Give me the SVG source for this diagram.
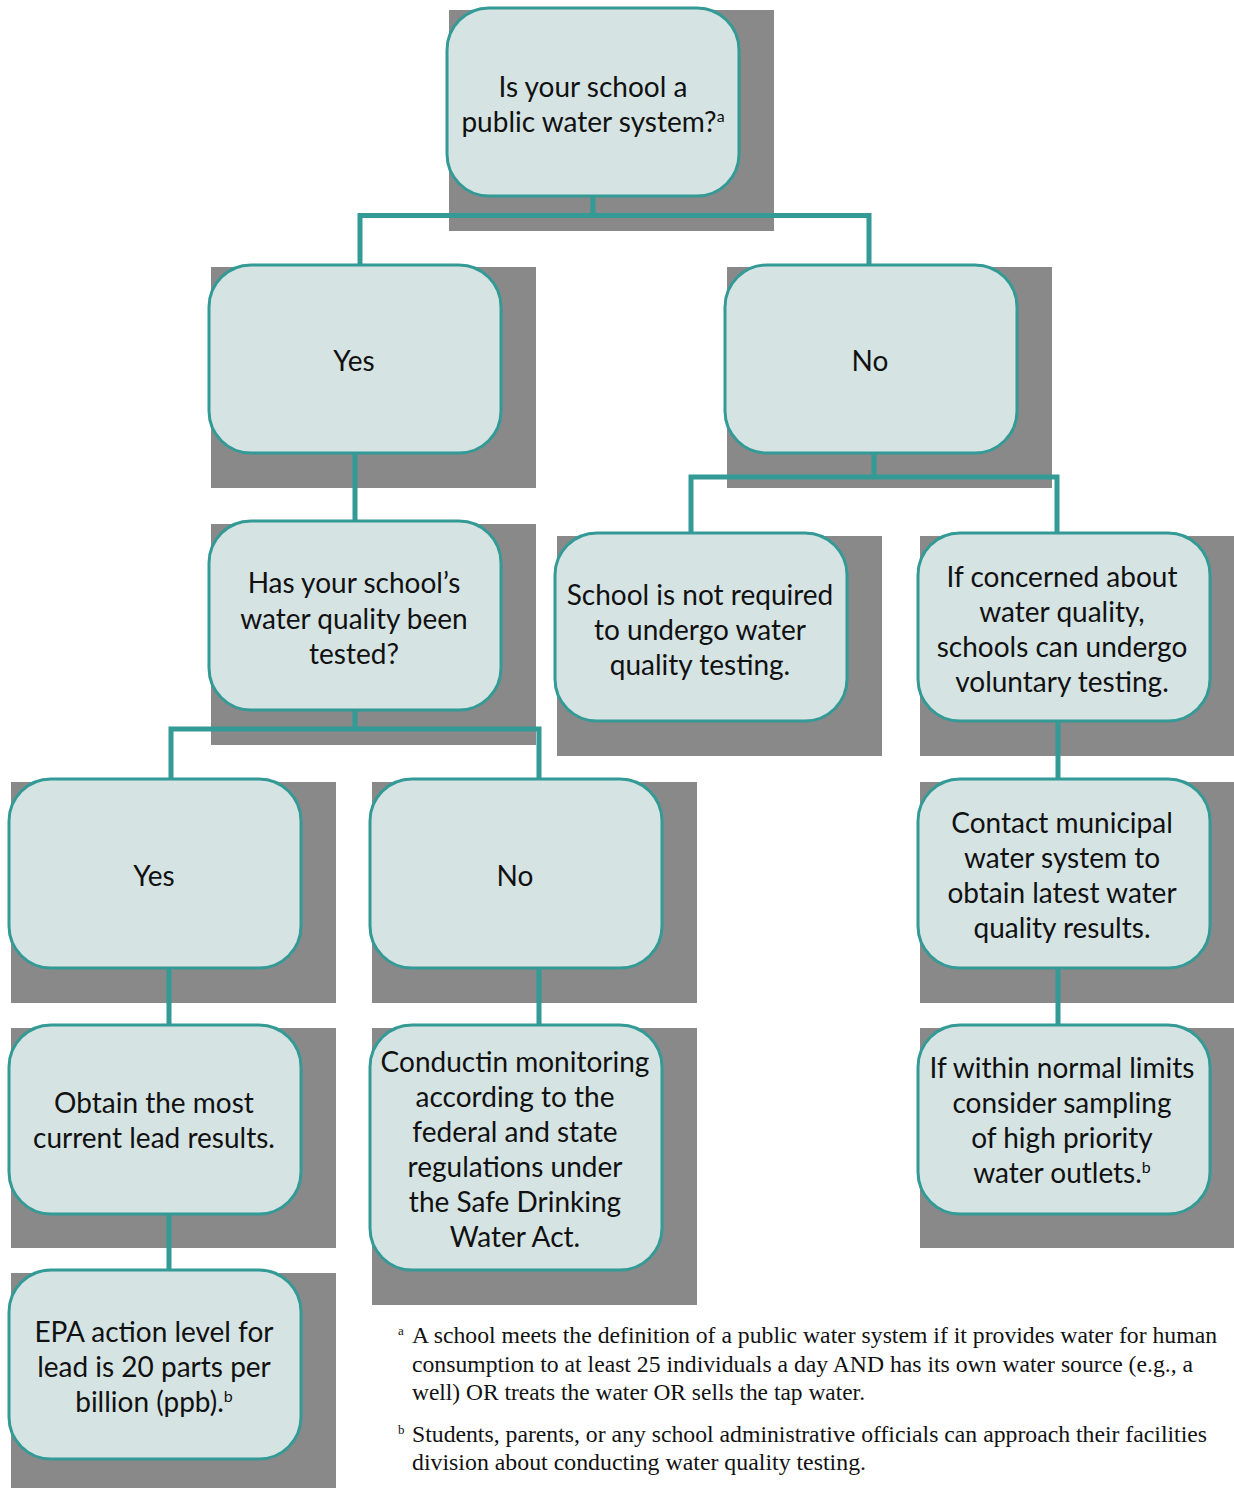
<svg xmlns="http://www.w3.org/2000/svg" width="1234" height="1488" viewBox="0 0 1234 1488">
<style>
.sh{fill:#898989}
.bx{fill:#D5E3E3;stroke:#339A96;stroke-width:3}
.t{font-family:"Lato","Noto Sans",sans-serif;font-size:28px;fill:#111;text-anchor:middle}
.sup{font-size:16px}
.c{fill:none;stroke:#339A96;stroke-width:5}
.fn{font-family:"Liberation Serif",serif;font-size:23px;fill:#111}
.fs{font-family:"Liberation Serif",serif;font-size:13px;fill:#111}
</style>
<rect width="1234" height="1488" fill="#fff"/>
<g id="n1"><rect class="sh" x="449" y="10" width="325" height="221"/><rect class="bx" x="447" y="8" width="292" height="188" rx="42"/>
<text class="t" x="593" y="97">Is your school a</text><text class="t" x="593" y="132">public water system?<tspan class="sup" dy="-10">a</tspan></text></g>
<g id="n2"><rect class="sh" x="211" y="267" width="325" height="221"/><rect class="bx" x="209" y="265" width="292" height="188" rx="42"/>
<text class="t" x="354" y="371">Yes</text></g>
<g id="n3"><rect class="sh" x="727" y="267" width="325" height="221"/><rect class="bx" x="725" y="265" width="292" height="188" rx="42"/>
<text class="t" x="870" y="371">No</text></g>
<g id="n4"><rect class="sh" x="211" y="524" width="325" height="221"/><rect class="bx" x="209" y="521" width="292" height="189" rx="42"/>
<text class="t" x="354" y="593">Has your school’s</text><text class="t" x="354" y="629">water quality been</text><text class="t" x="354" y="664">tested?</text></g>
<g id="n5"><rect class="sh" x="557" y="536" width="325" height="220"/><rect class="bx" x="555" y="533" width="292" height="188" rx="42"/>
<text class="t" x="700" y="605">School is not required</text><text class="t" x="700" y="640">to undergo water</text><text class="t" x="700" y="675">quality testing.</text></g>
<g id="n6"><rect class="sh" x="920" y="536" width="314" height="220"/><rect class="bx" x="918" y="533" width="292" height="188" rx="42"/>
<text class="t" x="1062" y="587">If concerned about</text><text class="t" x="1062" y="622">water quality,</text><text class="t" x="1062" y="657">schools can undergo</text><text class="t" x="1062" y="692">voluntary testing.</text></g>
<g id="n7"><rect class="sh" x="11" y="782" width="325" height="221"/><rect class="bx" x="9" y="779" width="292" height="189" rx="42"/>
<text class="t" x="154" y="886">Yes</text></g>
<g id="n8"><rect class="sh" x="372" y="782" width="325" height="221"/><rect class="bx" x="370" y="779" width="292" height="189" rx="42"/>
<text class="t" x="515" y="886">No</text></g>
<g id="n9"><rect class="sh" x="920" y="782" width="314" height="221"/><rect class="bx" x="918" y="779" width="292" height="189" rx="42"/>
<text class="t" x="1062" y="833">Contact municipal</text><text class="t" x="1062" y="868">water system to</text><text class="t" x="1062" y="903">obtain latest water</text><text class="t" x="1062" y="938">quality results.</text></g>
<g id="n10"><rect class="sh" x="11" y="1028" width="325" height="220"/><rect class="bx" x="9" y="1025" width="292" height="189" rx="42"/>
<text class="t" x="154" y="1113">Obtain the most</text><text class="t" x="154" y="1148">current lead results.</text></g>
<g id="n11"><rect class="sh" x="372" y="1028" width="325" height="277"/><rect class="bx" x="370" y="1025" width="292" height="245" rx="42"/>
<text class="t" x="515" y="1072">Conductin monitoring</text><text class="t" x="515" y="1107">according to the</text><text class="t" x="515" y="1142">federal and state</text><text class="t" x="515" y="1177">regulations under</text><text class="t" x="515" y="1212">the Safe Drinking</text><text class="t" x="515" y="1247">Water Act.</text></g>
<g id="n12"><rect class="sh" x="920" y="1028" width="314" height="220"/><rect class="bx" x="918" y="1025" width="292" height="189" rx="42"/>
<text class="t" x="1062" y="1078">If within normal limits</text><text class="t" x="1062" y="1113">consider sampling</text><text class="t" x="1062" y="1148">of high priority</text><text class="t" x="1062" y="1183">water outlets.<tspan class="sup" dy="-10">b</tspan></text></g>
<g id="n13"><rect class="sh" x="11" y="1273" width="325" height="215"/><rect class="bx" x="9" y="1270" width="292" height="189" rx="42"/>
<text class="t" x="154" y="1342">EPA action level for</text><text class="t" x="154" y="1377">lead is 20 parts per</text><text class="t" x="154" y="1412">billion (ppb).<tspan class="sup" dy="-10">b</tspan></text></g>
<g id="connectors">
<path class="c" d="M593,196V215.5M360,265V215.5H869V265"/>
<path class="c" d="M355,453V521"/>
<path class="c" d="M874,453V477M691,533V477H1057V533"/>
<path class="c" d="M355,710V729M171,779V729H539V779"/>
<path class="c" d="M1058,721V779M1058,968V1025"/>
<path class="c" d="M169,968V1025M539,968V1025M169,1214V1270"/>
</g>
<g id="footnotes">
<text class="fs" x="398" y="1335">a</text>
<text class="fn" x="412" y="1343" textLength="805" lengthAdjust="spacingAndGlyphs">A school meets the definition of a public water system if it provides water for human</text>
<text class="fn" x="412" y="1372" textLength="781" lengthAdjust="spacingAndGlyphs">consumption to at least 25 individuals a day AND has its own water source (e.g., a</text>
<text class="fn" x="412" y="1400" textLength="453" lengthAdjust="spacingAndGlyphs">well) OR treats the water OR sells the tap water.</text>
<text class="fs" x="398" y="1434">b</text>
<text class="fn" x="412" y="1442" textLength="795" lengthAdjust="spacingAndGlyphs">Students, parents, or any school administrative officials can approach their facilities</text>
<text class="fn" x="412" y="1470" textLength="454" lengthAdjust="spacingAndGlyphs">division about conducting water quality testing.</text>
</g>
</svg>
